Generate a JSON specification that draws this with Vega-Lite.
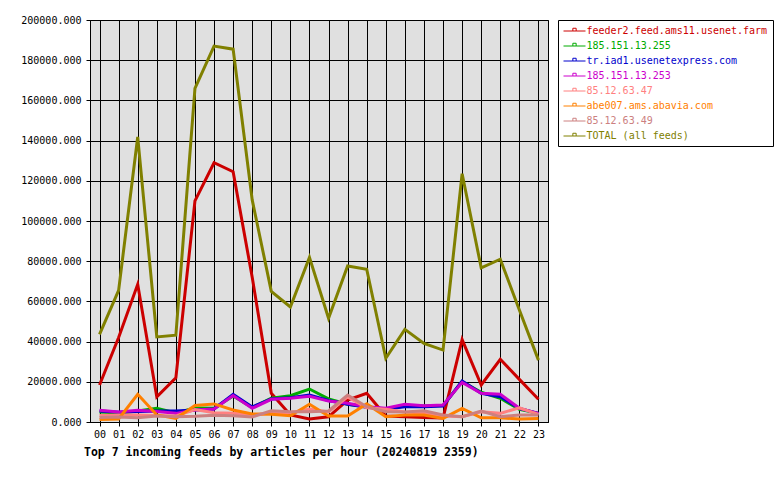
{
  "$schema": "https://vega.github.io/schema/vega-lite/v6.json",
  "width": 458,
  "height": 402,
  "autosize": "none",
  "padding": {"left": 90, "top": 20, "right": 232, "bottom": 58},
  "background": "white",
  "config": {
    "font": "DejaVu Sans Mono",
    "view": {"fill": "#e0e0e0", "stroke": "black", "strokeWidth": 1},
    "axis": {
      "labelFont": "DejaVu Sans Mono", "labelFontSize": 10, "labelColor": "black",
      "domainColor": "black", "tickColor": "black", "gridColor": "black", "gridOpacity": 1, "gridWidth": 1,
      "tickSize": 4, "title": null
    }
  },
  "title": {
    "text": "Top 7 incoming feeds by articles per hour (20240819 2359)",
    "orient": "bottom", "anchor": "start", "frame": "group", "dx": -6, "offset": 8,
    "font": "DejaVu Sans Mono", "fontSize": 11.5, "fontWeight": "bold", "color": "black"
  },
  "datasets": {
    "feeds": [
      {"feed": "feeder2.feed.ams11.usenet.farm", "hour": 0, "articles": 18400},
      {"feed": "feeder2.feed.ams11.usenet.farm", "hour": 1, "articles": 42000},
      {"feed": "feeder2.feed.ams11.usenet.farm", "hour": 2, "articles": 68500},
      {"feed": "feeder2.feed.ams11.usenet.farm", "hour": 3, "articles": 12500},
      {"feed": "feeder2.feed.ams11.usenet.farm", "hour": 4, "articles": 22000},
      {"feed": "feeder2.feed.ams11.usenet.farm", "hour": 5, "articles": 110000},
      {"feed": "feeder2.feed.ams11.usenet.farm", "hour": 6, "articles": 129000},
      {"feed": "feeder2.feed.ams11.usenet.farm", "hour": 7, "articles": 124500},
      {"feed": "feeder2.feed.ams11.usenet.farm", "hour": 8, "articles": 72000},
      {"feed": "feeder2.feed.ams11.usenet.farm", "hour": 9, "articles": 14300},
      {"feed": "feeder2.feed.ams11.usenet.farm", "hour": 10, "articles": 3500},
      {"feed": "feeder2.feed.ams11.usenet.farm", "hour": 11, "articles": 1500},
      {"feed": "feeder2.feed.ams11.usenet.farm", "hour": 12, "articles": 2600},
      {"feed": "feeder2.feed.ams11.usenet.farm", "hour": 13, "articles": 10900},
      {"feed": "feeder2.feed.ams11.usenet.farm", "hour": 14, "articles": 14300},
      {"feed": "feeder2.feed.ams11.usenet.farm", "hour": 15, "articles": 3000},
      {"feed": "feeder2.feed.ams11.usenet.farm", "hour": 16, "articles": 2600},
      {"feed": "feeder2.feed.ams11.usenet.farm", "hour": 17, "articles": 2300},
      {"feed": "feeder2.feed.ams11.usenet.farm", "hour": 18, "articles": 2000},
      {"feed": "feeder2.feed.ams11.usenet.farm", "hour": 19, "articles": 41000},
      {"feed": "feeder2.feed.ams11.usenet.farm", "hour": 20, "articles": 18400},
      {"feed": "feeder2.feed.ams11.usenet.farm", "hour": 21, "articles": 31200},
      {"feed": "feeder2.feed.ams11.usenet.farm", "hour": 22, "articles": 21200},
      {"feed": "feeder2.feed.ams11.usenet.farm", "hour": 23, "articles": 11300},
      {"feed": "185.151.13.255", "hour": 0, "articles": 5000},
      {"feed": "185.151.13.255", "hour": 1, "articles": 4500},
      {"feed": "185.151.13.255", "hour": 2, "articles": 5500},
      {"feed": "185.151.13.255", "hour": 3, "articles": 6800},
      {"feed": "185.151.13.255", "hour": 4, "articles": 4500},
      {"feed": "185.151.13.255", "hour": 5, "articles": 7000},
      {"feed": "185.151.13.255", "hour": 6, "articles": 6800},
      {"feed": "185.151.13.255", "hour": 7, "articles": 13000},
      {"feed": "185.151.13.255", "hour": 8, "articles": 7200},
      {"feed": "185.151.13.255", "hour": 9, "articles": 11800},
      {"feed": "185.151.13.255", "hour": 10, "articles": 13100},
      {"feed": "185.151.13.255", "hour": 11, "articles": 16400},
      {"feed": "185.151.13.255", "hour": 12, "articles": 11500},
      {"feed": "185.151.13.255", "hour": 13, "articles": 8800},
      {"feed": "185.151.13.255", "hour": 14, "articles": 7600},
      {"feed": "185.151.13.255", "hour": 15, "articles": 6500},
      {"feed": "185.151.13.255", "hour": 16, "articles": 8000},
      {"feed": "185.151.13.255", "hour": 17, "articles": 8000},
      {"feed": "185.151.13.255", "hour": 18, "articles": 8200},
      {"feed": "185.151.13.255", "hour": 19, "articles": 20100},
      {"feed": "185.151.13.255", "hour": 20, "articles": 14800},
      {"feed": "185.151.13.255", "hour": 21, "articles": 11800},
      {"feed": "185.151.13.255", "hour": 22, "articles": 6300},
      {"feed": "185.151.13.255", "hour": 23, "articles": 4300},
      {"feed": "tr.iad1.usenetexpress.com", "hour": 0, "articles": 5500},
      {"feed": "tr.iad1.usenetexpress.com", "hour": 1, "articles": 4800},
      {"feed": "tr.iad1.usenetexpress.com", "hour": 2, "articles": 5200},
      {"feed": "tr.iad1.usenetexpress.com", "hour": 3, "articles": 5500},
      {"feed": "tr.iad1.usenetexpress.com", "hour": 4, "articles": 5500},
      {"feed": "tr.iad1.usenetexpress.com", "hour": 5, "articles": 6000},
      {"feed": "tr.iad1.usenetexpress.com", "hour": 6, "articles": 6500},
      {"feed": "tr.iad1.usenetexpress.com", "hour": 7, "articles": 13800},
      {"feed": "tr.iad1.usenetexpress.com", "hour": 8, "articles": 7500},
      {"feed": "tr.iad1.usenetexpress.com", "hour": 9, "articles": 11500},
      {"feed": "tr.iad1.usenetexpress.com", "hour": 10, "articles": 12100},
      {"feed": "tr.iad1.usenetexpress.com", "hour": 11, "articles": 13400},
      {"feed": "tr.iad1.usenetexpress.com", "hour": 12, "articles": 10700},
      {"feed": "tr.iad1.usenetexpress.com", "hour": 13, "articles": 8800},
      {"feed": "tr.iad1.usenetexpress.com", "hour": 14, "articles": 7300},
      {"feed": "tr.iad1.usenetexpress.com", "hour": 15, "articles": 6500},
      {"feed": "tr.iad1.usenetexpress.com", "hour": 16, "articles": 7600},
      {"feed": "tr.iad1.usenetexpress.com", "hour": 17, "articles": 7600},
      {"feed": "tr.iad1.usenetexpress.com", "hour": 18, "articles": 8000},
      {"feed": "tr.iad1.usenetexpress.com", "hour": 19, "articles": 20400},
      {"feed": "tr.iad1.usenetexpress.com", "hour": 20, "articles": 14300},
      {"feed": "tr.iad1.usenetexpress.com", "hour": 21, "articles": 12600},
      {"feed": "tr.iad1.usenetexpress.com", "hour": 22, "articles": 6800},
      {"feed": "tr.iad1.usenetexpress.com", "hour": 23, "articles": 4300},
      {"feed": "185.151.13.253", "hour": 0, "articles": 5800},
      {"feed": "185.151.13.253", "hour": 1, "articles": 5000},
      {"feed": "185.151.13.253", "hour": 2, "articles": 5800},
      {"feed": "185.151.13.253", "hour": 3, "articles": 5200},
      {"feed": "185.151.13.253", "hour": 4, "articles": 4300},
      {"feed": "185.151.13.253", "hour": 5, "articles": 6000},
      {"feed": "185.151.13.253", "hour": 6, "articles": 6500},
      {"feed": "185.151.13.253", "hour": 7, "articles": 13200},
      {"feed": "185.151.13.253", "hour": 8, "articles": 6800},
      {"feed": "185.151.13.253", "hour": 9, "articles": 11300},
      {"feed": "185.151.13.253", "hour": 10, "articles": 11800},
      {"feed": "185.151.13.253", "hour": 11, "articles": 12800},
      {"feed": "185.151.13.253", "hour": 12, "articles": 10400},
      {"feed": "185.151.13.253", "hour": 13, "articles": 9300},
      {"feed": "185.151.13.253", "hour": 14, "articles": 7600},
      {"feed": "185.151.13.253", "hour": 15, "articles": 6800},
      {"feed": "185.151.13.253", "hour": 16, "articles": 8800},
      {"feed": "185.151.13.253", "hour": 17, "articles": 8100},
      {"feed": "185.151.13.253", "hour": 18, "articles": 8500},
      {"feed": "185.151.13.253", "hour": 19, "articles": 19700},
      {"feed": "185.151.13.253", "hour": 20, "articles": 14300},
      {"feed": "185.151.13.253", "hour": 21, "articles": 13800},
      {"feed": "185.151.13.253", "hour": 22, "articles": 6800},
      {"feed": "185.151.13.253", "hour": 23, "articles": 4300},
      {"feed": "85.12.63.47", "hour": 0, "articles": 3200},
      {"feed": "85.12.63.47", "hour": 1, "articles": 3500},
      {"feed": "85.12.63.47", "hour": 2, "articles": 3500},
      {"feed": "85.12.63.47", "hour": 3, "articles": 3200},
      {"feed": "85.12.63.47", "hour": 4, "articles": 3000},
      {"feed": "85.12.63.47", "hour": 5, "articles": 6200},
      {"feed": "85.12.63.47", "hour": 6, "articles": 4600},
      {"feed": "85.12.63.47", "hour": 7, "articles": 4300},
      {"feed": "85.12.63.47", "hour": 8, "articles": 3500},
      {"feed": "85.12.63.47", "hour": 9, "articles": 4300},
      {"feed": "85.12.63.47", "hour": 10, "articles": 4600},
      {"feed": "85.12.63.47", "hour": 11, "articles": 6500},
      {"feed": "85.12.63.47", "hour": 12, "articles": 5000},
      {"feed": "85.12.63.47", "hour": 13, "articles": 12500},
      {"feed": "85.12.63.47", "hour": 14, "articles": 7100},
      {"feed": "85.12.63.47", "hour": 15, "articles": 6300},
      {"feed": "85.12.63.47", "hour": 16, "articles": 5000},
      {"feed": "85.12.63.47", "hour": 17, "articles": 4500},
      {"feed": "85.12.63.47", "hour": 18, "articles": 3000},
      {"feed": "85.12.63.47", "hour": 19, "articles": 2600},
      {"feed": "85.12.63.47", "hour": 20, "articles": 5100},
      {"feed": "85.12.63.47", "hour": 21, "articles": 4300},
      {"feed": "85.12.63.47", "hour": 22, "articles": 7100},
      {"feed": "85.12.63.47", "hour": 23, "articles": 3800},
      {"feed": "abe007.ams.abavia.com", "hour": 0, "articles": 1300},
      {"feed": "abe007.ams.abavia.com", "hour": 1, "articles": 1500},
      {"feed": "abe007.ams.abavia.com", "hour": 2, "articles": 13800},
      {"feed": "abe007.ams.abavia.com", "hour": 3, "articles": 3500},
      {"feed": "abe007.ams.abavia.com", "hour": 4, "articles": 1800},
      {"feed": "abe007.ams.abavia.com", "hour": 5, "articles": 8200},
      {"feed": "abe007.ams.abavia.com", "hour": 6, "articles": 9000},
      {"feed": "abe007.ams.abavia.com", "hour": 7, "articles": 6000},
      {"feed": "abe007.ams.abavia.com", "hour": 8, "articles": 4000},
      {"feed": "abe007.ams.abavia.com", "hour": 9, "articles": 3800},
      {"feed": "abe007.ams.abavia.com", "hour": 10, "articles": 3100},
      {"feed": "abe007.ams.abavia.com", "hour": 11, "articles": 8800},
      {"feed": "abe007.ams.abavia.com", "hour": 12, "articles": 3000},
      {"feed": "abe007.ams.abavia.com", "hour": 13, "articles": 3000},
      {"feed": "abe007.ams.abavia.com", "hour": 14, "articles": 9000},
      {"feed": "abe007.ams.abavia.com", "hour": 15, "articles": 2600},
      {"feed": "abe007.ams.abavia.com", "hour": 16, "articles": 3500},
      {"feed": "abe007.ams.abavia.com", "hour": 17, "articles": 3500},
      {"feed": "abe007.ams.abavia.com", "hour": 18, "articles": 1800},
      {"feed": "abe007.ams.abavia.com", "hour": 19, "articles": 6800},
      {"feed": "abe007.ams.abavia.com", "hour": 20, "articles": 2100},
      {"feed": "abe007.ams.abavia.com", "hour": 21, "articles": 2100},
      {"feed": "abe007.ams.abavia.com", "hour": 22, "articles": 1500},
      {"feed": "abe007.ams.abavia.com", "hour": 23, "articles": 1800},
      {"feed": "85.12.63.49", "hour": 0, "articles": 2300},
      {"feed": "85.12.63.49", "hour": 1, "articles": 2500},
      {"feed": "85.12.63.49", "hour": 2, "articles": 2100},
      {"feed": "85.12.63.49", "hour": 3, "articles": 3000},
      {"feed": "85.12.63.49", "hour": 4, "articles": 2600},
      {"feed": "85.12.63.49", "hour": 5, "articles": 2800},
      {"feed": "85.12.63.49", "hour": 6, "articles": 3300},
      {"feed": "85.12.63.49", "hour": 7, "articles": 3100},
      {"feed": "85.12.63.49", "hour": 8, "articles": 2500},
      {"feed": "85.12.63.49", "hour": 9, "articles": 5600},
      {"feed": "85.12.63.49", "hour": 10, "articles": 5100},
      {"feed": "85.12.63.49", "hour": 11, "articles": 5100},
      {"feed": "85.12.63.49", "hour": 12, "articles": 5500},
      {"feed": "85.12.63.49", "hour": 13, "articles": 13400},
      {"feed": "85.12.63.49", "hour": 14, "articles": 7600},
      {"feed": "85.12.63.49", "hour": 15, "articles": 5100},
      {"feed": "85.12.63.49", "hour": 16, "articles": 5000},
      {"feed": "85.12.63.49", "hour": 17, "articles": 5600},
      {"feed": "85.12.63.49", "hour": 18, "articles": 3500},
      {"feed": "85.12.63.49", "hour": 19, "articles": 2600},
      {"feed": "85.12.63.49", "hour": 20, "articles": 5500},
      {"feed": "85.12.63.49", "hour": 21, "articles": 2600},
      {"feed": "85.12.63.49", "hour": 22, "articles": 3500},
      {"feed": "85.12.63.49", "hour": 23, "articles": 3500},
      {"feed": "TOTAL (all feeds)", "hour": 0, "articles": 43600},
      {"feed": "TOTAL (all feeds)", "hour": 1, "articles": 65500},
      {"feed": "TOTAL (all feeds)", "hour": 2, "articles": 141800},
      {"feed": "TOTAL (all feeds)", "hour": 3, "articles": 42300},
      {"feed": "TOTAL (all feeds)", "hour": 4, "articles": 43200},
      {"feed": "TOTAL (all feeds)", "hour": 5, "articles": 166000},
      {"feed": "TOTAL (all feeds)", "hour": 6, "articles": 187000},
      {"feed": "TOTAL (all feeds)", "hour": 7, "articles": 185500},
      {"feed": "TOTAL (all feeds)", "hour": 8, "articles": 110500},
      {"feed": "TOTAL (all feeds)", "hour": 9, "articles": 65000},
      {"feed": "TOTAL (all feeds)", "hour": 10, "articles": 57200},
      {"feed": "TOTAL (all feeds)", "hour": 11, "articles": 81900},
      {"feed": "TOTAL (all feeds)", "hour": 12, "articles": 51600},
      {"feed": "TOTAL (all feeds)", "hour": 13, "articles": 77600},
      {"feed": "TOTAL (all feeds)", "hour": 14, "articles": 76000},
      {"feed": "TOTAL (all feeds)", "hour": 15, "articles": 31700},
      {"feed": "TOTAL (all feeds)", "hour": 16, "articles": 46100},
      {"feed": "TOTAL (all feeds)", "hour": 17, "articles": 39100},
      {"feed": "TOTAL (all feeds)", "hour": 18, "articles": 35800},
      {"feed": "TOTAL (all feeds)", "hour": 19, "articles": 123500},
      {"feed": "TOTAL (all feeds)", "hour": 20, "articles": 76700},
      {"feed": "TOTAL (all feeds)", "hour": 21, "articles": 81000},
      {"feed": "TOTAL (all feeds)", "hour": 22, "articles": 55700},
      {"feed": "TOTAL (all feeds)", "hour": 23, "articles": 30800}
    ]
  },
  "data": {"name": "feeds"},
  "mark": {"type": "line", "strokeWidth": 3, "strokeJoin": "miter", "strokeCap": "butt"},
  "encoding": {
    "x": {
      "field": "hour", "type": "quantitative",
      "scale": {"domain": [-0.5, 23.5], "nice": false, "zero": false},
      "axis": {
        "values": [0,1,2,3,4,5,6,7,8,9,10,11,12,13,14,15,16,17,18,19,20,21,22,23],
        "labelExpr": "datum.value < 10 ? '0' + datum.value : '' + datum.value",
        "grid": true, "labelPadding": 3, "labelFlush": false, "labelOverlap": false
      }
    },
    "y": {
      "field": "articles", "type": "quantitative",
      "scale": {"domain": [0, 200000], "nice": false},
      "axis": {
        "values": [0,20000,40000,60000,80000,100000,120000,140000,160000,180000,200000],
        "format": ".3f", "grid": true, "labelPadding": 5
      }
    },
    "color": {
      "field": "feed", "type": "nominal",
      "scale": {
        "domain": ["feeder2.feed.ams11.usenet.farm", "185.151.13.255", "tr.iad1.usenetexpress.com", "185.151.13.253", "85.12.63.47", "abe007.ams.abavia.com", "85.12.63.49", "TOTAL (all feeds)"],
        "range": ["#cc0000", "#00aa00", "#0000cc", "#cc00cc", "#ff8080", "#ff8000", "#cc8080", "#808000"]
      },
      "legend": {
        "title": null, "orient": "right", "offset": 10,
        "padding": 5, "strokeColor": "black", "fillColor": "white",
        "labelFont": "DejaVu Sans Mono", "labelFontSize": 10, "labelLimit": 300,
        "symbolType": "M-2,0H-0.3M0.3,0H2M-0.3,0V-0.5H0.3V0Z",
        "symbolSize": 121, "symbolStrokeWidth": 1, "symbolOffset": 5.5,
        "labelOffset": 6, "rowPadding": 4,
        "encode": {"labels": {"update": {"fill": {"scale": "color", "field": "value"}}}}
      }
    }
  }
}
